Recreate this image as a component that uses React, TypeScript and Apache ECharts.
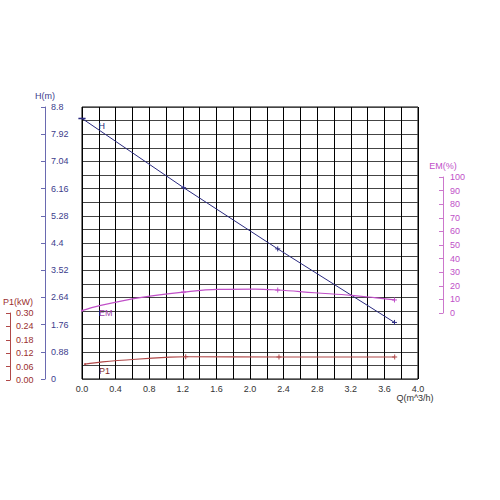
import React, { useEffect, useRef } from "react";
import * as echarts from "echarts";

// Head curve H (m)
const hQ = [0, 1.21, 2.33, 3.72];
const hVal = [8.43, 6.19, 4.21, 1.83];
// Efficiency curve EM (%)
const emQ = [0, 0.21, 0.71, 1.21, 1.62, 2.06, 2.33, 2.77, 3.21, 3.48, 3.72];
const emVal = [1.7, 5.4, 11.5, 15.4, 17.4, 17.6, 16.9, 14.9, 13.0, 11.3, 9.6];
// Power curve P1 (kW)
const p1Q = [0, 0.21, 0.61, 1.02, 1.21, 2.33, 3.72];
const p1Val = [0.071, 0.081, 0.093, 0.102, 0.104, 0.103, 0.103];
// Flow values where the curves carry a marker
const markerQ = [1.21, 2.33, 3.72];

const FONT = "Liberation Sans, Arial, sans-serif";
const PLUS = "path://M0,4L8,4M4,0L4,8";

function buildData(qs: number[], vs: number[], color: string, label: string, offset: number[]) {
  return qs.map((q, i) => {
    const item: any = { value: [q, vs[i]] };
    if (markerQ.indexOf(q) >= 0) {
      item.symbol = PLUS;
      item.symbolSize = 5;
    } else if (i === 0) {
      item.symbol = "rect";
      item.symbolSize = label === "H" ? [5, 1] : 1;
    } else {
      item.symbol = "none";
    }
    if (i === 0) {
      item.label = {
        show: true,
        formatter: label,
        position: "right",
        offset,
        color,
        fontSize: 9,
        fontFamily: FONT,
      };
    }
    return item;
  });
}

export default function App() {
  const ref = useRef<HTMLDivElement>(null);
  useEffect(() => {
    if (!ref.current) return;
    const chart = echarts.init(ref.current, null, { renderer: "svg" });
    const hColor = "#3c3c8c";
    const hAxis = "#6a6ab0";
    const emColor = "#c050c8";
    const emAxis = "#cc77cc";
    const p1Color = "#b04848";
    const p1Text = "#9a2e2e";
    const xCommon = { type: "value", min: 0, max: 4 };
    chart.setOption({
      animation: false,
      backgroundColor: "#ffffff",
      textStyle: { fontFamily: FONT },
      grid: [
        { left: 82, right: 82, top: 107, height: 272, show: true, borderColor: "#000", borderWidth: 1, backgroundColor: "transparent" },
        { left: 82, right: 82, top: 177, height: 136 },
        { left: 82, right: 82, top: 313, height: 67 },
      ],
      xAxis: [
        {
          ...xCommon,
          gridIndex: 0,
          interval: 0.4,
          axisLine: { show: false },
          axisTick: { show: false },
          axisLabel: { color: "#333", fontSize: 9, margin: 5, fontFamily: FONT, formatter: (v: number) => v.toFixed(1) },
          splitLine: { show: true, lineStyle: { color: "#000", width: 1 } },
          minorTick: { show: false, splitNumber: 2 },
          minorSplitLine: { show: true, lineStyle: { color: "#000", width: 1 } },
          name: "Q(m^3/h)",
          nameLocation: "end",
          nameGap: -3,
          nameTextStyle: { color: "#333", fontSize: 9, fontFamily: FONT, align: "center", verticalAlign: "top", padding: [14, 0, 0, 0] },
        },
        { ...xCommon, gridIndex: 1, show: false },
        { ...xCommon, gridIndex: 2, show: false },
      ],
      yAxis: [
        {
          type: "value",
          gridIndex: 0,
          min: 0,
          max: 8.8,
          interval: 0.88,
          position: "left",
          offset: 37,
          axisLine: { show: true, onZero: false, lineStyle: { color: hAxis } },
          axisTick: { show: true, inside: false, length: 4, lineStyle: { color: hAxis } },
          axisLabel: { inside: true, margin: 6, color: hColor, fontSize: 9, fontFamily: FONT, formatter: (v: number) => String(parseFloat(v.toFixed(2))) },
          splitLine: { show: true, lineStyle: { color: "#444", width: 1.2 } },
          minorTick: { show: false, splitNumber: 2 },
          minorSplitLine: { show: true, lineStyle: { color: "#444", width: 1.2 } },
          name: "H(m)",
          nameLocation: "end",
          nameGap: 7,
          nameTextStyle: { color: hColor, fontSize: 9, fontFamily: FONT },
        },
        {
          type: "value",
          gridIndex: 1,
          min: 0,
          max: 100,
          interval: 10,
          position: "right",
          offset: 25,
          axisLine: { show: true, onZero: false, lineStyle: { color: emAxis } },
          axisTick: { show: true, inside: true, length: 4, lineStyle: { color: emAxis } },
          axisLabel: { inside: false, margin: 7, color: emColor, fontSize: 9, fontFamily: FONT },
          splitLine: { show: false },
          name: "EM(%)",
          nameLocation: "end",
          nameGap: 7,
          nameTextStyle: { color: emColor, fontSize: 9, fontFamily: FONT },
        },
        {
          type: "value",
          gridIndex: 2,
          min: 0,
          max: 0.3,
          interval: 0.06,
          position: "left",
          offset: 75,
          axisLine: { show: true, onZero: false, lineStyle: { color: p1Color } },
          axisTick: { show: true, inside: false, length: 4, lineStyle: { color: p1Color } },
          axisLabel: { inside: true, margin: 6, color: p1Text, fontSize: 9, fontFamily: FONT, formatter: (v: number) => v.toFixed(2) },
          splitLine: { show: false },
          name: "P1(kW)",
          nameLocation: "end",
          nameGap: 7,
          nameTextStyle: { color: p1Text, fontSize: 9, fontFamily: FONT, align: "left", padding: [0, 0, 0, -7] },
        },
      ],
      series: [
        {
          type: "line",
          name: "H",
          xAxisIndex: 0,
          yAxisIndex: 0,
          data: buildData(hQ, hVal, "#2a2a78", "H", [8, 8]),
          lineStyle: { color: "#2a2a80", width: 1 },
          itemStyle: { color: "#2a2a80", borderColor: "#2a2a80", borderWidth: 1 },
          z: 5,
        },
        {
          type: "line",
          name: "EM",
          xAxisIndex: 1,
          yAxisIndex: 1,
          smooth: 0.4,
          data: buildData(emQ, emVal, "#a040a8", "EM", [11, 2]),
          lineStyle: { color: emColor, width: 1.2 },
          itemStyle: { color: emColor, borderColor: emColor, borderWidth: 1 },
          z: 5,
        },
        {
          type: "line",
          name: "P1",
          xAxisIndex: 2,
          yAxisIndex: 2,
          smooth: 0.4,
          data: buildData(p1Q, p1Val, "#802828", "P1", [8, 7]),
          lineStyle: { color: p1Color, width: 1.2 },
          itemStyle: { color: p1Color, borderColor: p1Color, borderWidth: 1 },
          z: 5,
        },
      ],
    });
    return () => chart.dispose();
  }, []);
  return (
    <div
      ref={ref}
      style={{ position: "fixed", left: 0, top: 0, width: 500, height: 500, background: "#fff" }}
    />
  );
}
